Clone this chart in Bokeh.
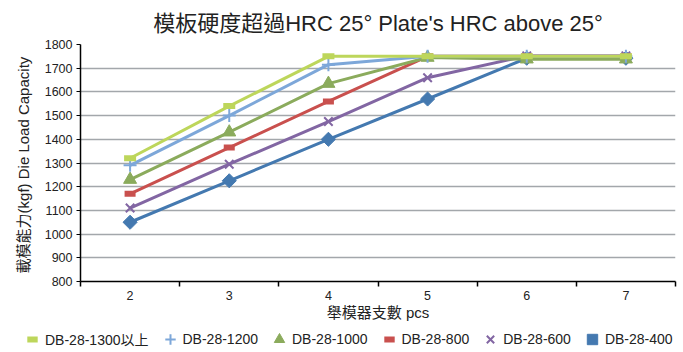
import math
from bokeh.plotting import figure
from bokeh.layouts import column, row
from bokeh.models import Range1d, FixedTicker, Legend, LegendItem
from bokeh.embed import file_html
from bokeh.resources import INLINE

# ---- data ----
pcs = [2, 3, 4, 5, 6, 7]
series_names = ["DB-28-1300以上", "DB-28-1200", "DB-28-1000", "DB-28-800", "DB-28-600", "DB-28-400"]
db1300 = [1320, 1540, 1750, 1750, 1750, 1750]
db1200 = [1290, 1500, 1715, 1750, 1750, 1750]
db1000 = [1230, 1430, 1635, 1745, 1738, 1738]
db800 = [1170, 1365, 1560, 1750, 1750, 1750]
db600 = [1110, 1295, 1475, 1660, 1752, 1752]
db400 = [1050, 1225, 1400, 1570, 1742, 1742]
y_ticks = [800, 900, 1000, 1100, 1200, 1300, 1400, 1500, 1600, 1700, 1800]

title_text = "模板硬度超過HRC 25° Plate's HRC above 25°"
x_label = "舉模器支數 pcs"
y_label = "載模能力(kgf)  Die Load Capacity"

FONT = "'Liberation Sans', 'Noto Sans CJK TC', sans-serif"
TXT = "#222222"

p = figure(frame_width=595, frame_height=237, output_backend="svg", toolbar_location=None,
           x_range=Range1d(1.5, 7.5), y_range=Range1d(800, 1800),
           min_border_left=80, min_border_right=8, min_border_top=44, min_border_bottom=44,
           background_fill_color="white", border_fill_color="white")
p.outline_line_color = None

p.title.text = title_text
p.title.align = "center"
p.title.text_font = FONT
p.title.text_font_size = "22px"
p.title.text_font_style = "normal"
p.title.text_color = TXT
p.title.standoff = 17

# axes
xa = p.xaxis[0]
xa.ticker = FixedTicker(ticks=pcs, minor_ticks=[1.5, 2.5, 3.5, 4.5, 5.5, 6.5, 7.5])
xa.major_tick_line_color = None
xa.major_tick_out = 5
xa.major_tick_in = 0
xa.minor_tick_line_color = "black"
xa.minor_tick_out = 5
xa.minor_tick_in = 0
xa.minor_tick_line_width = 1.5
xa.axis_line_color = "black"
xa.axis_line_width = 1.5
xa.major_label_text_font = FONT
xa.major_label_text_font_size = "12.5px"
xa.major_label_text_color = TXT
xa.major_label_standoff = 4
xa.axis_label = x_label
xa.axis_label_text_font = FONT
xa.axis_label_text_font_size = "15px"
xa.axis_label_text_font_style = "normal"
xa.axis_label_text_color = TXT
xa.axis_label_standoff = 1

ya = p.yaxis[0]
ya.ticker = FixedTicker(ticks=y_ticks)
ya.minor_tick_line_color = None
ya.major_tick_out = 4
ya.major_tick_in = 0
ya.major_tick_line_color = "black"
ya.axis_line_color = "black"
ya.axis_line_width = 1.5
ya.major_label_text_font = FONT
ya.major_label_text_font_size = "12.5px"
ya.major_label_text_color = TXT
ya.major_label_standoff = 4
ya.axis_label = y_label
ya.axis_label_text_font = FONT
ya.axis_label_text_font_size = "15px"
ya.axis_label_text_font_style = "normal"
ya.axis_label_text_color = TXT
ya.axis_label_standoff = 10

p.xgrid.grid_line_color = None
p.ygrid.ticker = FixedTicker(ticks=y_ticks)
p.ygrid.grid_line_color = "#a3a7ab"
p.ygrid.grid_line_width = 1.5

# series styles (draw bottom-most first)
specs = [
    (db400, series_names[5], "#4479b0", "square", 10, 1, True, math.pi / 4),
    (db600, series_names[4], "#8266a3", "x", 12, 2, False, 0),
    (db800, series_names[3], "#c9504e", "dash", 11, 6, False, 0),
    (db1000, series_names[2], "#8bab5c", "triangle", 13, 1, True, 0),
    (db1200, series_names[1], "#7da7d9", "cross", 13, 2, False, 0),
    (db1300, series_names[0], "#bdd65b", "dash", 12, 6, False, 0),
]
for vals, name, col, mk, sz, lw, filled, ang in specs:
    p.line(pcs, vals, line_color=col, line_width=3)
    p.scatter(pcs, vals, marker=mk, size=sz, angle=ang, line_color=col, line_width=lw,
              fill_color=col if filled else None)

# legend strip: a second figure whose ranges keep the series' marks out of view,
# so that only its legend shows
lp = figure(width=683, height=27, output_backend="svg", toolbar_location=None,
            x_range=Range1d(0, 1), y_range=Range1d(0, 1), title=None,
            x_axis_location=None, y_axis_location=None,
            min_border=0, min_border_left=0, min_border_right=0,
            background_fill_color="white", border_fill_color="white")
lp.outline_line_color = None
lp.grid.visible = False
legend_renderers = {}
for vals, name, col, mk, sz, lw, filled, ang in specs:
    legend_renderers[name] = lp.scatter(pcs, vals, marker=mk, size=sz, angle=ang, line_color=col,
                                        line_width=lw, fill_color=col if filled else None)
items = [LegendItem(label=n, renderers=[legend_renderers[n]]) for n in series_names]
legend = Legend(items=items, orientation="horizontal", location=(19, 0),
                label_text_font=FONT, label_text_font_size="14px", label_text_color=TXT,
                glyph_width=26, glyph_height=26, label_height=14, label_standoff=0,
                spacing=8, padding=0, margin=0,
                background_fill_alpha=0, border_line_color=None)
lp.add_layout(legend, "center")

layout = column(p, row(lp, spacing=0), spacing=0)
open("out.html", "w").write(file_html(layout, INLINE))
